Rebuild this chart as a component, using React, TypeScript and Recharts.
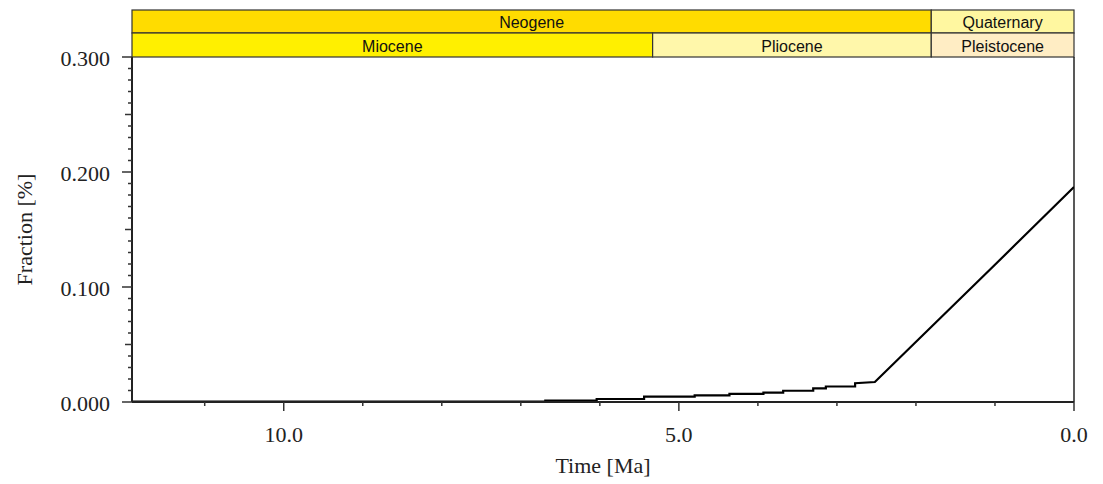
import React from 'react';
import { LineChart, Line, XAxis, YAxis, ReferenceArea, ReferenceLine } from 'recharts';

// Time (Ma) and fraction (%) of the curve
const times = [11.92, 6.69, 6.69, 6.04, 6.04, 5.44, 5.44, 4.8, 4.8, 4.36, 4.36, 3.93, 3.93, 3.68, 3.68, 3.3, 3.3, 3.14, 3.14, 2.77, 2.77, 2.52, 1.02, 0];
const fractions = [0.0003, 0.0003, 0.0013, 0.0013, 0.0026, 0.0026, 0.0046, 0.0046, 0.0058, 0.0058, 0.007, 0.007, 0.0081, 0.0081, 0.0098, 0.0098, 0.0119, 0.0119, 0.0135, 0.0135, 0.0163, 0.0174, 0.118, 0.187];

// Geologic time scale
const periodNames = ['Neogene', 'Quaternary'];
const periodStarts = [11.92, 1.806];
const periodEnds = [1.806, 0];
const periodColors = ['#FFDC00', '#FFF7A0'];

const epochNames = ['Miocene', 'Pliocene', 'Pleistocene'];
const epochStarts = [11.92, 5.332, 1.806];
const epochEnds = [5.332, 1.806, 0];
const epochColors = ['#FFF000', '#FFF7AA', '#FFEDC4'];

// Axis ticks
const xDomainMax = 11.92;
const xTicks = [11, 10, 9, 8, 7, 6, 5, 4, 3, 2, 1, 0];
const xMajor = [10, 5, 0];
const yTicks = Array.from({ length: 31 }, (_, i) => i / 100);
const yMajor = [0, 0.1, 0.2, 0.3];

const data = times.map((t, i) => ({ t, v: fractions[i] }));

const SERIF = "'Liberation Serif', 'DejaVu Serif', serif";
const SANS = "'Liberation Sans', Arial, sans-serif";

const XTick = (props: any) => {
  const { x, y, payload } = props;
  const v = payload.value;
  const major = xMajor.some((m) => Math.abs(m - v) < 1e-6);
  return (
    <g>
      <line x1={x} x2={x} y1={y} y2={y + (major ? 9 : 4)} stroke="#333" strokeWidth={1.5} />
      {major && (
        <text x={x} y={y + 40} textAnchor="middle" fontFamily={SERIF} fontSize={22} fill="#222">
          {v.toFixed(1)}
        </text>
      )}
    </g>
  );
};

const YTick = (props: any) => {
  const { x, y, payload } = props;
  const v = payload.value;
  const major = yMajor.some((m) => Math.abs(m - v) < 1e-6);
  const mid = !major && Math.abs(v * 20 - Math.round(v * 20)) < 1e-6;
  const len = major ? 10 : mid ? 7 : 4;
  return (
    <g>
      <line x1={x - len} x2={x} y1={y} y2={y} stroke="#333" strokeWidth={1.5} />
      {major && (
        <text x={x - 22} y={y + 9} textAnchor="end" fontFamily={SERIF} fontSize={22} fill="#222">
          {v.toFixed(3)}
        </text>
      )}
    </g>
  );
};

const XLabel = (props: any) => {
  const vb = props.viewBox || {};
  return (
    <text x={vb.x + vb.width / 2} y={vb.y + 71} textAnchor="middle" fontFamily={SERIF} fontSize={22} fill="#222">
      Time [Ma]
    </text>
  );
};

const YLabel = (props: any) => {
  const vb = props.viewBox || {};
  const cx = 24;
  const cy = vb.y + vb.height / 2;
  return (
    <text x={cx} y={cy} transform={`rotate(-90 ${cx} ${cy})`} textAnchor="middle" dominantBaseline="central" fontFamily={SERIF} fontSize={22} fill="#222">
      Fraction [%]
    </text>
  );
};

const makeBand = (name: string, color: string, row: number) => (props: any) => {
  const { x, y, width } = props;
  const top = row === 0 ? y - 47 : y - 24;
  const h = row === 0 ? 23 : 24;
  return (
    <g>
      <rect x={x} y={top} width={width} height={h} fill={color} stroke="#333" strokeWidth={1.2} />
      <text x={x + width / 2} y={top + h / 2 + 1} textAnchor="middle" dominantBaseline="central" fontFamily={SANS} fontSize={16} fill="#111">
        {name}
      </text>
    </g>
  );
};

export default function App() {
  return (
    <div style={{ position: 'absolute', left: 0, top: 0, background: '#fff' }}>
      <LineChart width={1103} height={484} data={data} margin={{ top: 57, right: 29, left: 0, bottom: 22 }}>
        <XAxis
          type="number"
          dataKey="t"
          domain={[0, xDomainMax]}
          reversed
          allowDataOverflow
          ticks={xTicks}
          interval={0}
          height={60}
          tickSize={0}
          tickMargin={0}
          tickLine={false}
          axisLine={{ stroke: '#222', strokeWidth: 2 }}
          tick={<XTick />}
          label={{ content: <XLabel /> }}
        />
        <YAxis
          type="number"
          domain={[0, 0.3]}
          allowDataOverflow
          ticks={yTicks}
          interval={0}
          width={132}
          tickSize={0}
          tickMargin={0}
          tickLine={false}
          axisLine={{ stroke: '#222', strokeWidth: 2 }}
          tick={<YTick />}
          label={{ content: <YLabel /> }}
        />
        <ReferenceLine x={0} stroke="#222" strokeWidth={1.5} ifOverflow="visible" />
        {periodNames.map((n, i) => (
          <ReferenceArea
            key={'p' + n}
            x1={periodStarts[i]}
            x2={periodEnds[i]}
            y1={0}
            y2={0.3}
            ifOverflow="visible"
            shape={makeBand(n, periodColors[i], 0)}
          />
        ))}
        {epochNames.map((n, i) => (
          <ReferenceArea
            key={'e' + n}
            x1={epochStarts[i]}
            x2={epochEnds[i]}
            y1={0}
            y2={0.3}
            ifOverflow="visible"
            shape={makeBand(n, epochColors[i], 1)}
          />
        ))}
        <Line type="linear" dataKey="v" stroke="#000" strokeWidth={2.2} dot={false} isAnimationActive={false} />
      </LineChart>
    </div>
  );
}
